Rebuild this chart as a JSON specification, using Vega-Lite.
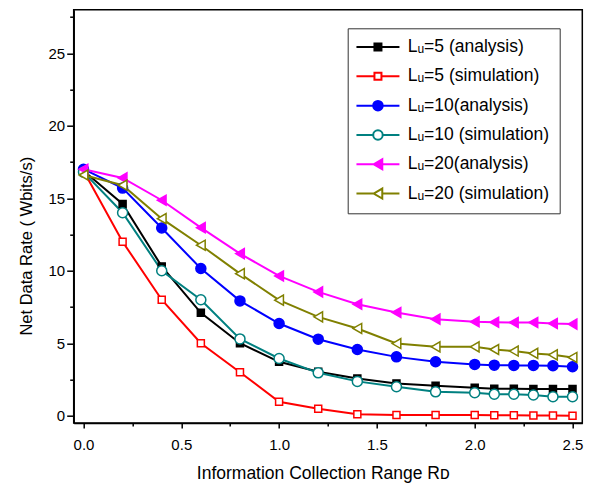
{
  "$schema": "https://vega.github.io/schema/vega-lite/v6.json",
  "width": 508.6,
  "height": 413.3,
  "autosize": "none",
  "padding": {"left": 73.7, "top": 9.7, "right": 20.7, "bottom": 65},
  "background": "white",
  "config": {
    "font": "Liberation Sans",
    "view": {"stroke": "black", "strokeWidth": 1.5},
    "axis": {"grid": false, "domainColor": "black", "domainWidth": 1.5, "tickColor": "black", "tickWidth": 1.5, "labelColor": "black", "titleColor": "black", "labelFontSize": 15, "titleFontSize": 17.5, "titleFontWeight": "normal", "labelFont": "Liberation Sans", "titleFont": "Liberation Sans"},
    "legend": {
      "orient": "none",
      "legendX": 274,
      "legendY": 18.6,
      "strokeColor": "#333333",
      "fillColor": "white",
      "padding": 10,
      "symbolSize": 100,
      "symbolOffset": 11.5,
      "labelOffset": 21,
      "rowPadding": 10.3,
      "labelFontSize": 17.5,
      "labelColor": "black",
      "labelFont": "Liberation Sans",
      "labelLimit": 300,
      "symbolStrokeWidth": 2
    }
  },
  "data": {
    "values": [
      {"x": 0, "y": 16.9, "s": "a5"}, {"x": 0.2, "y": 14.6, "s": "a5"}, {"x": 0.4, "y": 10.3, "s": "a5"}, {"x": 0.6, "y": 7.1, "s": "a5"}, {"x": 0.8, "y": 5.0, "s": "a5"}, {"x": 1.0, "y": 3.72, "s": "a5"}, {"x": 1.2, "y": 3.03, "s": "a5"}, {"x": 1.4, "y": 2.57, "s": "a5"}, {"x": 1.6, "y": 2.23, "s": "a5"}, {"x": 1.8, "y": 2.07, "s": "a5"}, {"x": 2.0, "y": 1.93, "s": "a5"}, {"x": 2.1, "y": 1.86, "s": "a5"}, {"x": 2.2, "y": 1.86, "s": "a5"}, {"x": 2.3, "y": 1.84, "s": "a5"}, {"x": 2.4, "y": 1.84, "s": "a5"}, {"x": 2.5, "y": 1.84, "s": "a5"},
      {"x": 0, "y": 16.9, "s": "s5"}, {"x": 0.2, "y": 12.0, "s": "s5"}, {"x": 0.4, "y": 8.0, "s": "s5"}, {"x": 0.6, "y": 5.0, "s": "s5"}, {"x": 0.8, "y": 3.0, "s": "s5"}, {"x": 1.0, "y": 0.96, "s": "s5"}, {"x": 1.2, "y": 0.48, "s": "s5"}, {"x": 1.4, "y": 0.1, "s": "s5"}, {"x": 1.6, "y": 0.05, "s": "s5"}, {"x": 1.8, "y": 0.05, "s": "s5"}, {"x": 2.0, "y": 0.05, "s": "s5"}, {"x": 2.1, "y": 0.04, "s": "s5"}, {"x": 2.2, "y": 0.03, "s": "s5"}, {"x": 2.3, "y": 0.02, "s": "s5"}, {"x": 2.4, "y": 0.01, "s": "s5"}, {"x": 2.5, "y": 0.0, "s": "s5"},
      {"x": 0, "y": 17.0, "s": "a10"}, {"x": 0.2, "y": 15.7, "s": "a10"}, {"x": 0.4, "y": 12.95, "s": "a10"}, {"x": 0.6, "y": 10.15, "s": "a10"}, {"x": 0.8, "y": 7.92, "s": "a10"}, {"x": 1.0, "y": 6.36, "s": "a10"}, {"x": 1.2, "y": 5.28, "s": "a10"}, {"x": 1.4, "y": 4.57, "s": "a10"}, {"x": 1.6, "y": 4.06, "s": "a10"}, {"x": 1.8, "y": 3.72, "s": "a10"}, {"x": 2.0, "y": 3.54, "s": "a10"}, {"x": 2.1, "y": 3.49, "s": "a10"}, {"x": 2.2, "y": 3.47, "s": "a10"}, {"x": 2.3, "y": 3.47, "s": "a10"}, {"x": 2.4, "y": 3.45, "s": "a10"}, {"x": 2.5, "y": 3.38, "s": "a10"},
      {"x": 0, "y": 16.8, "s": "s10"}, {"x": 0.2, "y": 14.0, "s": "s10"}, {"x": 0.4, "y": 10.0, "s": "s10"}, {"x": 0.6, "y": 8.0, "s": "s10"}, {"x": 0.8, "y": 5.3, "s": "s10"}, {"x": 1.0, "y": 3.95, "s": "s10"}, {"x": 1.2, "y": 2.96, "s": "s10"}, {"x": 1.4, "y": 2.37, "s": "s10"}, {"x": 1.6, "y": 2.0, "s": "s10"}, {"x": 1.8, "y": 1.65, "s": "s10"}, {"x": 2.0, "y": 1.59, "s": "s10"}, {"x": 2.1, "y": 1.49, "s": "s10"}, {"x": 2.2, "y": 1.49, "s": "s10"}, {"x": 2.3, "y": 1.43, "s": "s10"}, {"x": 2.4, "y": 1.31, "s": "s10"}, {"x": 2.5, "y": 1.31, "s": "s10"},
      {"x": 0, "y": 17.0, "s": "a20"}, {"x": 0.2, "y": 16.4, "s": "a20"}, {"x": 0.4, "y": 14.86, "s": "a20"}, {"x": 0.6, "y": 12.97, "s": "a20"}, {"x": 0.8, "y": 11.18, "s": "a20"}, {"x": 1.0, "y": 9.64, "s": "a20"}, {"x": 1.2, "y": 8.54, "s": "a20"}, {"x": 1.4, "y": 7.69, "s": "a20"}, {"x": 1.6, "y": 7.12, "s": "a20"}, {"x": 1.8, "y": 6.66, "s": "a20"}, {"x": 2.0, "y": 6.48, "s": "a20"}, {"x": 2.1, "y": 6.45, "s": "a20"}, {"x": 2.2, "y": 6.43, "s": "a20"}, {"x": 2.3, "y": 6.43, "s": "a20"}, {"x": 2.4, "y": 6.36, "s": "a20"}, {"x": 2.5, "y": 6.32, "s": "a20"},
      {"x": 0, "y": 16.6, "s": "s20"}, {"x": 0.2, "y": 15.9, "s": "s20"}, {"x": 0.4, "y": 13.59, "s": "s20"}, {"x": 0.6, "y": 11.76, "s": "s20"}, {"x": 0.8, "y": 9.8, "s": "s20"}, {"x": 1.0, "y": 7.97, "s": "s20"}, {"x": 1.2, "y": 6.82, "s": "s20"}, {"x": 1.4, "y": 6.02, "s": "s20"}, {"x": 1.6, "y": 4.98, "s": "s20"}, {"x": 1.8, "y": 4.75, "s": "s20"}, {"x": 2.0, "y": 4.75, "s": "s20"}, {"x": 2.1, "y": 4.57, "s": "s20"}, {"x": 2.2, "y": 4.46, "s": "s20"}, {"x": 2.3, "y": 4.3, "s": "s20"}, {"x": 2.4, "y": 4.2, "s": "s20"}, {"x": 2.5, "y": 4.02, "s": "s20"}
    ]
  },
  "encoding": {
    "x": {
      "field": "x", "type": "quantitative",
      "scale": {"domain": [-0.05, 2.55], "nice": false, "zero": false},
      "axis": {
        "title": "Information Collection Range Rᴅ",
        "values": [0, 0.25, 0.5, 0.75, 1, 1.25, 1.5, 1.75, 2, 2.25, 2.5],
        "labelExpr": "abs(datum.value*2 - round(datum.value*2)) < 0.000001 ? format(datum.value, '.1f') : ''",
        "tickSize": {"condition": {"test": "abs(datum.value*2 - round(datum.value*2)) < 0.000001", "value": 5}, "value": 3},
        "labelPadding": 9,
        "labelFlush": false,
        "titlePadding": 12,
        "titleX": 249
      }
    },
    "y": {
      "field": "y", "type": "quantitative",
      "scale": {"domain": [-0.5, 28], "nice": false, "zero": false},
      "axis": {
        "title": "Net Data Rate ( Wbits/s)",
        "titleFontSize": 16.5,
        "titleAngle": 270,
        "titleBaseline": "alphabetic",
        "titleX": -42,
        "titleY": 236,
        "values": [0, 2.5, 5, 7.5, 10, 12.5, 15, 17.5, 20, 22.5, 25, 27.5],
        "labelExpr": "datum.value % 5 == 0 ? format(datum.value, 'd') : ''",
        "tickSize": {"condition": {"test": "datum.value % 5 == 0", "value": 7}, "value": 4},
        "labelPadding": 2,
        "labelFlush": false
      }
    },
    "stroke": {
      "field": "s", "type": "nominal",
      "scale": {"domain": ["a5", "s5", "a10", "s10", "a20", "s20"], "range": ["#000000", "#ff0000", "#0000ff", "#008080", "#ff00ff", "#808000"]},
      "legend": {
        "title": null,
        "labelExpr": "{'a5': 'Lᵤ=5 (analysis)', 's5': 'Lᵤ=5 (simulation)', 'a10': 'Lᵤ=10(analysis)', 's10': 'Lᵤ=10 (simulation)', 'a20': 'Lᵤ=20(analysis)', 's20': 'Lᵤ=20 (simulation)'}[datum.value]",
        "symbolType": {"expr": "indexof(['a5','s5'], datum.value) >= 0 ? 'M-4.3,0H-0.7M0.7,0H4.3M-0.7,-0.7H0.7V0.7H-0.7Z' : indexof(['a10','s10'], datum.value) >= 0 ? 'M-4.3,0H-0.95M0.95,0H4.3M-0.95,0A0.95,0.95,0,1,1,0.95,0A0.95,0.95,0,1,1,-0.95,0Z' : 'M-4.3,0H-0.866M0.866,0H4.3M-0.866,0L0.866,-1L0.866,1Z'"}
      }
    },
    "fill": {
      "field": "s", "type": "nominal",
      "scale": {"domain": ["a5", "s5", "a10", "s10", "a20", "s20"], "range": ["#000000", "#ffffff", "#0000ff", "#ffffff", "#ff00ff", "#ffffff"]},
      "legend": {
        "title": null,
        "labelExpr": "{'a5': 'Lᵤ=5 (analysis)', 's5': 'Lᵤ=5 (simulation)', 'a10': 'Lᵤ=10(analysis)', 's10': 'Lᵤ=10 (simulation)', 'a20': 'Lᵤ=20(analysis)', 's20': 'Lᵤ=20 (simulation)'}[datum.value]",
        "symbolType": {"expr": "indexof(['a5','s5'], datum.value) >= 0 ? 'M-4.3,0H-0.7M0.7,0H4.3M-0.7,-0.7H0.7V0.7H-0.7Z' : indexof(['a10','s10'], datum.value) >= 0 ? 'M-4.3,0H-0.95M0.95,0H4.3M-0.95,0A0.95,0.95,0,1,1,0.95,0A0.95,0.95,0,1,1,-0.95,0Z' : 'M-4.3,0H-0.866M0.866,0H4.3M-0.866,0L0.866,-1L0.866,1Z'"}
      }
    }
  },
  "layer": [
    {
      "mark": {"type": "line", "strokeWidth": 2, "fill": null},
      "encoding": {"fill": {"value": null}}
    },
    {
      "transform": [{"filter": {"field": "s", "oneOf": ["a5", "s5"]}}],
      "mark": {"type": "point", "size": 100, "strokeWidth": 1.5, "opacity": 1, "shape": "M-0.7,-0.7H0.7V0.7H-0.7Z"}
    },
    {
      "transform": [{"filter": {"field": "s", "oneOf": ["a10", "s10"]}}],
      "mark": {"type": "point", "size": 100, "strokeWidth": 1.5, "opacity": 1, "shape": "circle"}
    },
    {
      "transform": [{"filter": {"field": "s", "oneOf": ["a20", "s20"]}}],
      "mark": {"type": "point", "size": 100, "strokeWidth": 1.5, "opacity": 1, "shape": "triangle-left"}
    }
  ]
}
